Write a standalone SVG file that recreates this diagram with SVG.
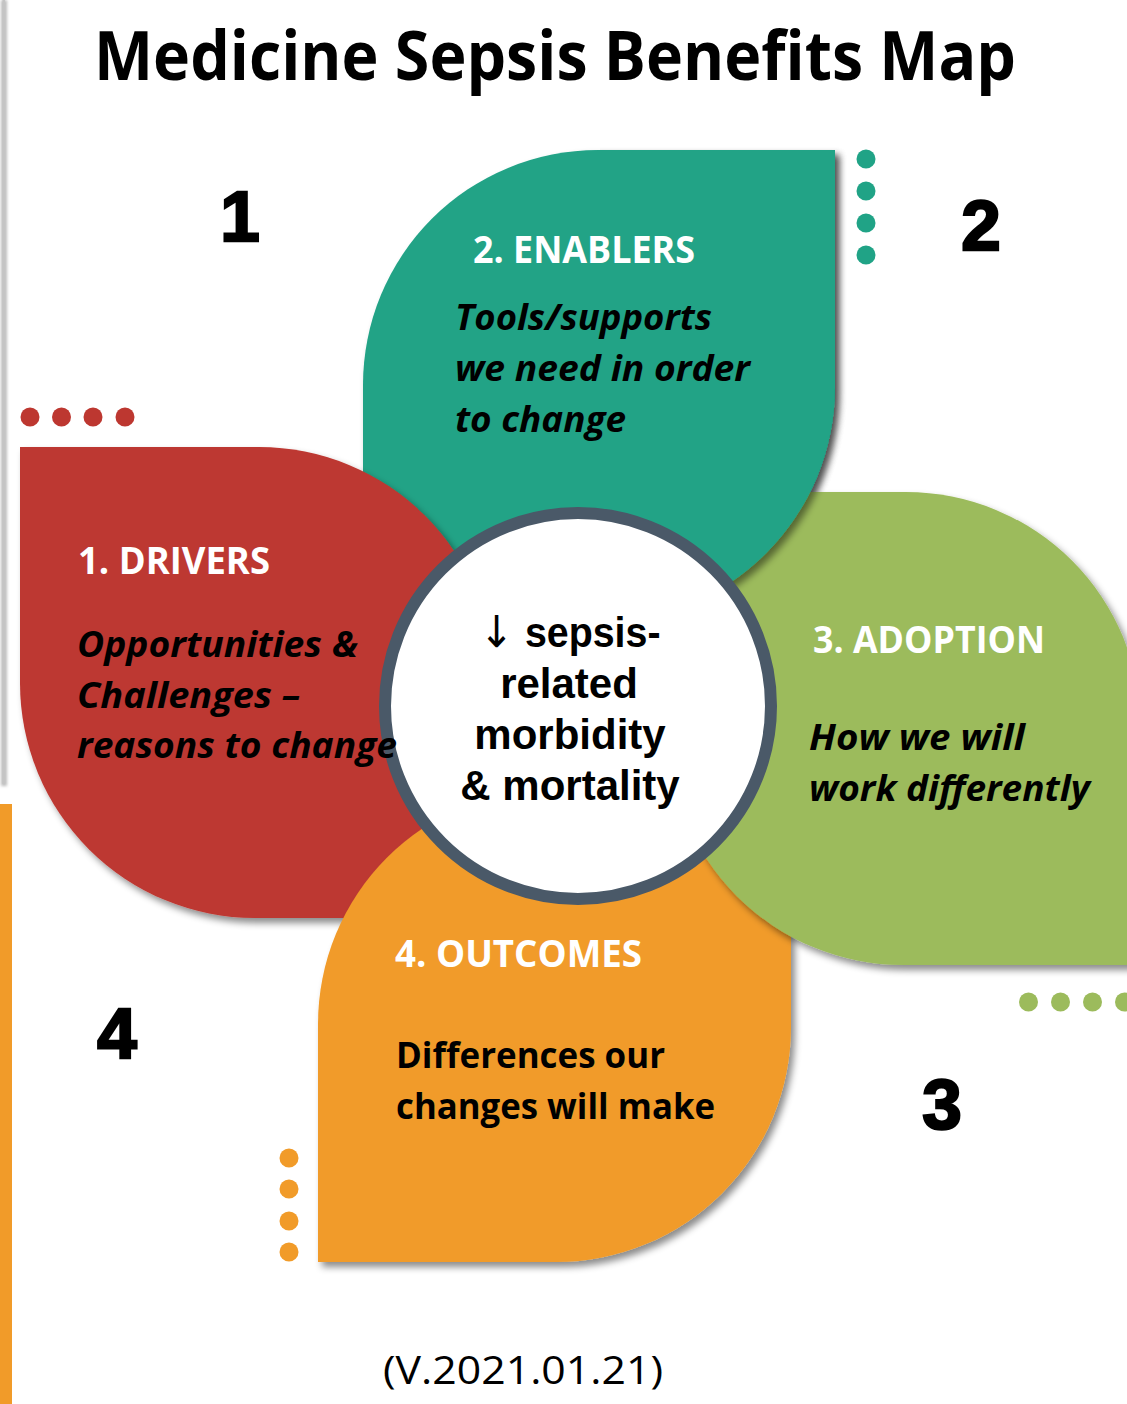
<svg xmlns="http://www.w3.org/2000/svg" width="1127" height="1404" viewBox="0 0 1127 1404">
  <style>
    .title { font-family: "Open Sans", "Liberation Sans", sans-serif; font-weight: 700; font-size: 68px; fill: #000; }
    .num { font-family: "Liberation Sans", Arial, sans-serif; font-weight: 700; font-size: 71px; fill: #000; stroke: #000; stroke-width: 2.5px; text-anchor: middle; }
    .head { font-family: "Open Sans", "Liberation Sans", sans-serif; font-weight: 700; font-size: 37px; fill: #fff; }
    .desc { font-family: "Open Sans", "Liberation Sans", sans-serif; font-weight: 700; font-style: italic; font-size: 35px; fill: #000; }
    .descn { font-family: "Open Sans", "Liberation Sans", sans-serif; font-weight: 700; font-size: 35px; fill: #000; }
    .center { font-family: "Liberation Sans", Arial, sans-serif; font-weight: 700; font-size: 42px; fill: #000; text-anchor: middle; }
    .arrow { font-family: "DejaVu Sans", "Liberation Sans", sans-serif; font-weight: 400; font-size: 44px; }
    .ver { font-family: "Open Sans", "Liberation Sans", sans-serif; font-weight: 400; font-size: 38px; fill: #000; }
    .red { fill: #BD3730; }
    .teal { fill: #20A386; }
    .green { fill: #9CBB5C; }
    .orange { fill: #F19B29; }
  </style>
  <defs>
    <filter id="shadow" x="-10%" y="-10%" width="125%" height="125%">
      <feDropShadow dx="4" dy="5" stdDeviation="3.5" flood-color="#000" flood-opacity="0.45"/>
    </filter>
    <filter id="lineShadow" x="-200%" y="-5%" width="500%" height="110%">
      <feGaussianBlur stdDeviation="1.5"/>
    </filter>
    <clipPath id="rightClip">
      <rect x="600" y="0" width="527" height="1404"/>
    </clipPath>
    <path id="tealShape" d="M363,622 L363,385 A235,235 0 0 1 598,150 L835,150 L835,387 A235,235 0 0 1 600,622 Z"/>
  </defs>

  <rect x="0" y="0" width="1127" height="1404" fill="#fff"/>

  <!-- side decorations -->
  <g id="side-lines">
    <rect x="1" y="0" width="6" height="786" fill="#bdbdbd" filter="url(#lineShadow)"/>
    <rect x="2.5" y="0" width="2.5" height="784" fill="#c4c4c4"/>
    <rect x="0" y="804" width="12" height="600" class="orange"/>
  </g>

  <g id="title">
    <text class="title" x="94" y="80" textLength="922" lengthAdjust="spacingAndGlyphs">Medicine Sepsis Benefits Map</text>
  </g>

  <g id="numbers">
    <text class="num" x="240" y="241">1</text>
    <text class="num" x="981" y="250">2</text>
    <text class="num" x="942" y="1129">3</text>
    <text class="num" x="117" y="1058">4</text>
  </g>

  <g id="dots">
    <g class="red">
      <circle cx="30" cy="417" r="9.5"/>
      <circle cx="61.5" cy="417" r="9.5"/>
      <circle cx="93" cy="417" r="9.5"/>
      <circle cx="125" cy="417" r="9.5"/>
    </g>
    <g class="teal">
      <circle cx="866" cy="159" r="9.5"/>
      <circle cx="866" cy="191" r="9.5"/>
      <circle cx="866" cy="223" r="9.5"/>
      <circle cx="866" cy="255" r="9.5"/>
    </g>
    <g class="green">
      <circle cx="1028.5" cy="1002" r="9.5"/>
      <circle cx="1060.5" cy="1002" r="9.5"/>
      <circle cx="1092.5" cy="1002" r="9.5"/>
      <circle cx="1124.5" cy="1002" r="9.5"/>
    </g>
    <g class="orange">
      <circle cx="289" cy="1158" r="9.5"/>
      <circle cx="289" cy="1189" r="9.5"/>
      <circle cx="289" cy="1221" r="9.5"/>
      <circle cx="289" cy="1252" r="9.5"/>
    </g>
  </g>

  <g id="connectors"></g>

  <!-- petals (shapes) -->
  <g id="enablers-shape" filter="url(#shadow)">
    <use href="#tealShape" class="teal"/>
  </g>
  <g id="drivers-shape" filter="url(#shadow)">
    <path class="red" d="M20,447 L259,447 A235,235 0 0 1 494,682 L494,918 L255,918 A235,235 0 0 1 20,683 Z"/>
  </g>
  <g id="outcomes-shape" filter="url(#shadow)">
    <path class="orange" d="M318,1262 L318,1024 A235,235 0 0 1 553,789 L791,789 L791,1027 A235,235 0 0 1 556,1262 Z"/>
  </g>
  <g id="adoption-shape" filter="url(#shadow)">
    <path class="green" d="M668,492 L906,492 A235,235 0 0 1 1141,727 L1141,965 L903,965 A235,235 0 0 1 668,730 Z"/>
  </g>
  <g id="enablers-shape-top" clip-path="url(#rightClip)">
    <g filter="url(#shadow)">
      <use href="#tealShape" class="teal"/>
    </g>
  </g>

  <!-- center -->
  <g id="center">
    <circle cx="578" cy="706" r="193" fill="#fff" stroke="#4A5968" stroke-width="12"/>
    <text class="center" x="570" y="647" textLength="181" lengthAdjust="spacingAndGlyphs"><tspan class="arrow">↓</tspan> sepsis-</text>
    <text class="center" x="569" y="698">related</text>
    <text class="center" x="570" y="749">morbidity</text>
    <text class="center" x="570" y="800">&amp; mortality</text>
  </g>

  <!-- petal texts -->
  <g id="drivers">
    <text class="head" x="78" y="574" textLength="192" lengthAdjust="spacingAndGlyphs">1. DRIVERS</text>
    <text class="desc" x="77" y="657" textLength="281" lengthAdjust="spacingAndGlyphs">Opportunities &amp;</text>
    <text class="desc" x="77" y="708" textLength="223" lengthAdjust="spacingAndGlyphs">Challenges –</text>
    <text class="desc" x="77" y="758" textLength="320" lengthAdjust="spacingAndGlyphs">reasons to change</text>
  </g>
  <g id="enablers">
    <text class="head" x="473" y="263" textLength="222" lengthAdjust="spacingAndGlyphs">2. ENABLERS</text>
    <text class="desc" x="455" y="330" textLength="257" lengthAdjust="spacingAndGlyphs">Tools/supports</text>
    <text class="desc" x="455" y="381" textLength="295" lengthAdjust="spacingAndGlyphs">we need in order</text>
    <text class="desc" x="455" y="432" textLength="171" lengthAdjust="spacingAndGlyphs">to change</text>
  </g>
  <g id="adoption">
    <text class="head" x="813" y="653" textLength="232" lengthAdjust="spacingAndGlyphs">3. ADOPTION</text>
    <text class="desc" x="809" y="750" textLength="216" lengthAdjust="spacingAndGlyphs">How we will</text>
    <text class="desc" x="809" y="801" textLength="281" lengthAdjust="spacingAndGlyphs">work differently</text>
  </g>
  <g id="outcomes">
    <text class="head" x="395" y="967" textLength="247" lengthAdjust="spacingAndGlyphs">4. OUTCOMES</text>
    <text class="descn" x="396" y="1068" textLength="269" lengthAdjust="spacingAndGlyphs">Differences our</text>
    <text class="descn" x="396" y="1119" textLength="319" lengthAdjust="spacingAndGlyphs">changes will make</text>
  </g>

  <g id="version">
    <text class="ver" x="383" y="1384" textLength="280" lengthAdjust="spacingAndGlyphs">(V.2021.01.21)</text>
  </g>
</svg>
